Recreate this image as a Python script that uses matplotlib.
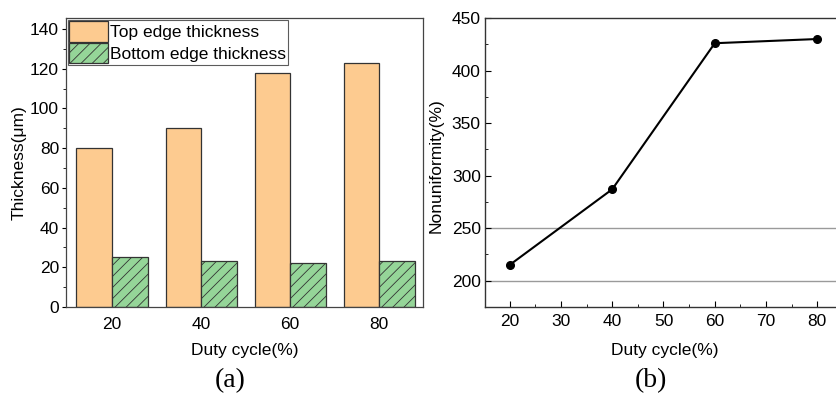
import matplotlib
matplotlib.use("Agg")
import matplotlib.pyplot as plt
import numpy as np
from matplotlib.ticker import MultipleLocator

plt.rcParams['font.family'] = ['Liberation Sans', 'DejaVu Sans']
plt.rcParams['hatch.linewidth'] = 0.6

# Data
duty_labels = ['20', '40', '60', '80']
top_edge = [80, 90, 118, 123]
bottom_edge = [25, 23, 22, 23]

duty_cycle = [20, 40, 60, 80]
nonuniformity = [215, 287, 426, 430]
ref_lines = [200, 250]

FS = 12.5

fig = plt.figure(figsize=(8.37, 3.98), dpi=100)
W, H = 837, 398

def ax_rect(l, t, r, b):
    return [l / W, (H - b) / H, (r - l) / W, (b - t) / H]

# ---- Panel (a)
ax1 = fig.add_axes(ax_rect(66, 18, 423, 307))
x = np.arange(len(duty_labels))
bw = 0.4
ax1.bar(x - bw / 2, top_edge, bw, color='#FDCB90', edgecolor='#333333',
        linewidth=0.9, label='Top edge thickness')
ax1.bar(x + bw / 2, bottom_edge, bw, color='#95D598', edgecolor='#333333',
        linewidth=0.9, hatch='///', label='Bottom edge thickness')
ax1.set_xlim(-0.517, 3.49)
ax1.set_ylim(0, 145.5)
ax1.set_xticks(x)
ax1.set_xticklabels(duty_labels)
ax1.yaxis.set_major_locator(MultipleLocator(20))
ax1.yaxis.set_minor_locator(MultipleLocator(10))
ax1.tick_params(axis='x', length=0, labelsize=FS, pad=7)
ax1.tick_params(axis='y', which='major', direction='out', length=3, labelsize=FS, pad=2)
ax1.tick_params(axis='y', which='minor', direction='out', length=2)
for s in ax1.spines.values():
    s.set_color('#444444')
    s.set_linewidth(0.9)
leg = ax1.legend(loc='upper left', bbox_to_anchor=(0.0, 1.0), fontsize=FS,
                 frameon=True, fancybox=False, edgecolor='#333333',
                 handlelength=2.2, handleheight=1.4, labelspacing=0.1,
                 borderpad=0.1, handletextpad=0.15, borderaxespad=0.1)
leg.get_frame().set_linewidth(0.8)

fig.text(245 / W, 1 - 351 / H, 'Duty cycle(%)', ha='center', va='center', fontsize=FS)
fig.text(19 / W, 1 - 163 / H, 'Thickness(μm)', ha='center', va='center',
         rotation=90, fontsize=FS)
fig.text(230 / W, 1 - 381 / H, '(a)', ha='center', va='center', fontsize=20,
         family=['Liberation Serif', 'DejaVu Serif'])

# ---- Panel (b)
ax2 = fig.add_axes(ax_rect(485, 18, 843, 307))
for yv in ref_lines:
    ax2.axhline(yv, color='#9a9a9a', linewidth=1.0, zorder=1)
ax2.plot(duty_cycle, nonuniformity, color='black', linewidth=1.5,
         marker='o', markersize=5.5, zorder=3)
ax2.set_xlim(15.2, 85)
ax2.set_ylim(175, 450)
ax2.xaxis.set_major_locator(MultipleLocator(10))
ax2.xaxis.set_minor_locator(MultipleLocator(5))
ax2.yaxis.set_major_locator(MultipleLocator(50))
ax2.yaxis.set_minor_locator(MultipleLocator(25))
ax2.tick_params(axis='both', which='major', direction='in', length=4, labelsize=FS)
ax2.tick_params(axis='both', which='minor', direction='in', length=2)
ax2.tick_params(axis='x', pad=5)
ax2.tick_params(axis='y', pad=3)
for s in ax2.spines.values():
    s.set_color('#333333')
    s.set_linewidth(1.0)

fig.text(665 / W, 1 - 351 / H, 'Duty cycle(%)', ha='center', va='center', fontsize=FS)
fig.text(436 / W, 1 - 166 / H, 'Nonuniformity(%)', ha='center', va='center',
         rotation=90, fontsize=FS)
fig.text(651 / W, 1 - 381 / H, '(b)', ha='center', va='center', fontsize=20,
         family=['Liberation Serif', 'DejaVu Serif'])

fig.savefig('out.png', dpi=100)
